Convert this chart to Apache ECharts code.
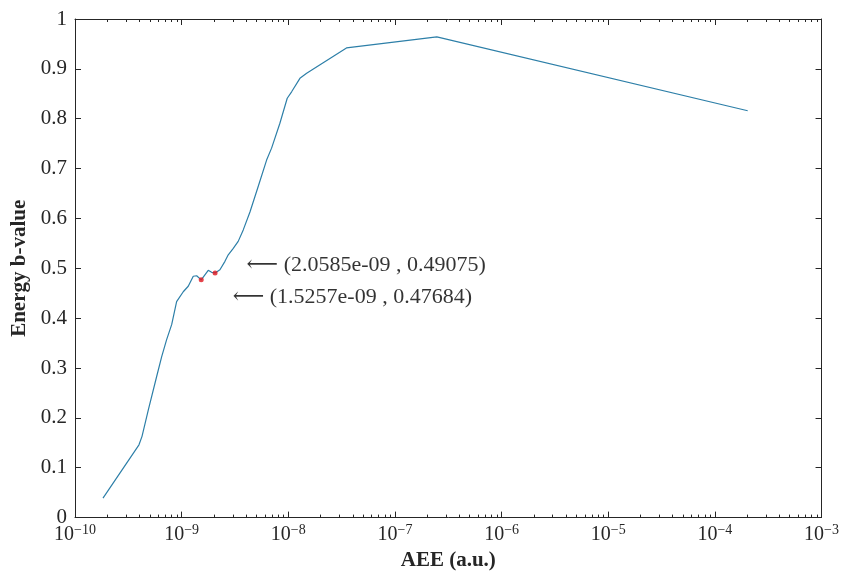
<!DOCTYPE html>
<html>
<head>
<meta charset="utf-8">
<script src="https://cdn.jsdelivr.net/npm/echarts@6/dist/echarts.min.js"></script>
<style>
  html, body { margin: 0; padding: 0; background: #fff; }
  #chart { width: 842px; height: 576px; }
</style>
</head>
<body>
<div id="chart"></div>
<script>
// AEE (a.u.) against energy b-value
const aee = [
  1.83e-10, 3.98e-10, 4.25e-10, 4.87e-10, 5.83e-10, 6.50e-10, 7.23e-10, 8.06e-10,
  8.97e-10, 1.035e-9, 1.153e-9, 1.285e-9, 1.383e-9, 1.5257e-9, 1.652e-9, 1.775e-9,
  1.910e-9, 2.0585e-9, 2.285e-9, 2.547e-9, 2.735e-9, 3.048e-9, 3.39e-9, 3.78e-9,
  4.37e-9, 5.22e-9, 6.26e-9, 6.97e-9, 8.34e-9, 9.77e-9, 1.074e-8, 1.285e-8,
  1.486e-8, 3.51e-8, 2.47e-7, 2.03e-4
];
const bValue = [
  0.039, 0.146, 0.163, 0.216, 0.283, 0.323, 0.357, 0.387,
  0.433, 0.453, 0.464, 0.484, 0.485, 0.47684, 0.487, 0.496,
  0.492, 0.49075, 0.497, 0.514, 0.527, 0.540, 0.554, 0.577,
  0.613, 0.664, 0.717, 0.741, 0.791, 0.841, 0.854, 0.881,
  0.891, 0.942, 0.964, 0.816
];

// highlighted local minima
const markedAee = [2.0585e-9, 1.5257e-9];
const markedB = [0.49075, 0.47684];

// axis ranges (x as decades)
const xMinExp = -10;
const xMaxExp = -3;
const yTicks = [0, 0.1, 0.2, 0.3, 0.4, 0.5, 0.6, 0.7, 0.8, 0.9, 1];

const axisColor = '#262626';
const serif = '"Liberation Serif", "DejaVu Serif", serif';

// minor ticks at 2..9 x 10^k
const minorTicks = [];
for (let e = xMinExp; e < xMaxExp; e++) {
  for (let k = 2; k <= 9; k++) minorTicks.push([k * Math.pow(10, e), 0]);
}

function fmtExp(v) {
  const [m, e] = v.toExponential(4).split('e');
  const n = parseInt(e, 10);
  const s = (n < 0 ? '-' : '+') + String(Math.abs(n)).padStart(2, '0');
  return m + 'e' + s;
}

const labelOffsets = [[29, -8], [29, 17]];

const chart = echarts.init(document.getElementById('chart'), null, { renderer: 'canvas' });

const xAxisBase = {
  type: 'log',
  logBase: 10,
  min: Math.pow(10, xMinExp),
  max: Math.pow(10, xMaxExp),
  splitLine: { show: false },
  axisLine: { show: true, onZero: false, lineStyle: { color: axisColor, width: 1 } },
  axisTick: { show: true, inside: true, length: 6, lineStyle: { color: axisColor } }
};
const yAxisBase = {
  type: 'value',
  min: yTicks[0],
  max: yTicks[yTicks.length - 1],
  interval: 0.1,
  splitLine: { show: false },
  axisLine: { show: true, onZero: false, lineStyle: { color: axisColor, width: 1 } },
  axisTick: { show: true, inside: true, length: 6, lineStyle: { color: axisColor } }
};

chart.setOption({
  animation: false,
  backgroundColor: '#ffffff',
  grid: { left: 75, right: 20, top: 19, bottom: 58, containLabel: false },
  xAxis: [
    Object.assign({}, xAxisBase, {
      position: 'bottom',
      name: 'AEE (a.u.)',
      nameLocation: 'middle',
      nameGap: 32,
      nameTextStyle: { fontFamily: serif, fontWeight: 'bold', fontSize: 21, color: axisColor },
      axisLabel: {
        margin: 6,
        formatter: v => '{b|10}{s|\u2212' + Math.abs(Math.round(Math.log10(v))) + '}',
        rich: {
          b: { fontFamily: serif, fontSize: 20, color: axisColor },
          s: { fontFamily: serif, fontSize: 14, color: axisColor, verticalAlign: 'bottom', padding: [0, 0, 9, 0] }
        }
      }
    }),
    Object.assign({}, xAxisBase, { position: 'top', axisLabel: { show: false } })
  ],
  yAxis: [
    Object.assign({}, yAxisBase, {
      position: 'left',
      name: 'Energy b-value',
      nameLocation: 'middle',
      nameGap: 44,
      nameRotate: 90,
      nameTextStyle: { fontFamily: serif, fontWeight: 'bold', fontSize: 21, color: axisColor },
      axisLabel: {
        margin: 8,
        fontFamily: serif, fontSize: 21, color: axisColor,
        formatter: v => String(+v.toFixed(1))
      }
    }),
    Object.assign({}, yAxisBase, { position: 'right', axisLabel: { show: false } })
  ],
  series: [
    {
      type: 'line',
      data: aee.map((x, i) => [x, bValue[i]]),
      showSymbol: false,
      lineStyle: { color: '#2d7fa8', width: 1.2 },
      z: 3
    },
    {
      type: 'scatter',
      data: markedAee.map((x, i) => ({
        value: [x, markedB[i]],
        label: { offset: labelOffsets[i] }
      })),
      symbol: 'circle',
      symbolSize: 5,
      itemStyle: { color: '#e0161f' },
      label: {
        show: true,
        position: 'right',
        distance: 0,
        fontFamily: serif,
        fontSize: 22,
        color: '#000000',
        formatter: p => '\u27F5 (' + fmtExp(p.value[0]) + ' , ' + p.value[1] + ')'
      },
      z: 4
    },
    {
      type: 'custom',
      silent: true,
      clip: false,
      data: minorTicks,
      encode: { x: 0, y: 1 },
      renderItem: (params, api) => {
        const cs = params.coordSys;
        const x = Math.round(api.coord([api.value(0), 0])[0]) + 0.5;
        const bottom = cs.y + cs.height;
        const style = { stroke: axisColor, lineWidth: 1 };
        return {
          type: 'group',
          children: [
            { type: 'line', shape: { x1: x, y1: bottom, x2: x, y2: bottom - 3 }, style },
            { type: 'line', shape: { x1: x, y1: cs.y, x2: x, y2: cs.y + 3 }, style }
          ]
        };
      },
      z: 2
    }
  ]
});
</script>
</body>
</html>
